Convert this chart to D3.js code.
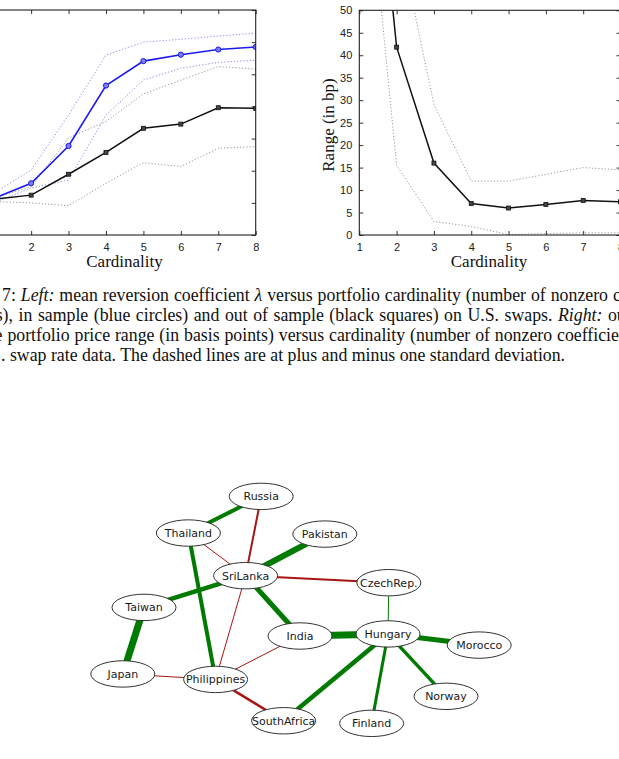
<!DOCTYPE html>
<html>
<head>
<meta charset="utf-8">
<script src="https://cdn.jsdelivr.net/npm/d3@7"></script>
<style>
  body { margin: 0; background: #fff; }
  svg { display: block; }
  .tick text { font-family: "Liberation Sans", Arial, sans-serif; font-size: 11px; fill: #222; }
  .tick line { stroke: #333; }
  .axisTitle { font-family: "Liberation Serif", "Times New Roman", serif; font-size: 17px; fill: #111; }
  .caption { font-family: "Liberation Serif", "Times New Roman", serif; font-size: 17.8px; fill: #111; }
  .nodeLabel { font-family: "DejaVu Sans", sans-serif; font-size: 11px; fill: #1a1a1a; }
</style>
</head>
<body>
<div id="chart"></div>
<script>
// ---- data -------------------------------------------------------
var cardinality = [1, 2, 3, 4, 5, 6, 7, 8];

// left panel: mean reversion coefficient (y axis labels are cut off in the picture)
var lambdaIn    = [1.14, 1.61, 2.77, 4.65, 5.41, 5.61, 5.77, 5.85];
var lambdaInUp  = [1.30, 2.02, 3.73, 5.60, 6.00, 6.09, 6.19, 6.28];
var lambdaInLo  = [1.00, 1.46, 1.71, 3.73, 4.82, 5.19, 5.37, 5.44];
var lambdaOut   = [1.11, 1.24, 1.89, 2.57, 3.32, 3.45, 3.96, 3.94];
var lambdaOutUp = [1.15, 1.50, 3.02, 3.53, 4.39, 4.82, 5.24, 5.16];
var lambdaOutLo = [1.04, 1.00, 0.91, 1.61, 2.25, 2.13, 2.70, 2.75];
var lambdaTicks = [0, 1, 2, 3, 4, 5, 6, 7];

// right panel: price range in bp
var rangeOut = [124, 41.8, 16, 7, 6, 6.8, 7.7, 7.4];
var rangeUp  = [149, 68.6, 29, 12, 12, 13.5, 15, 14.5];
var rangeLo  = [100, 15.5, 3, 1.9, 0.1, 0.3, 0.5, 0.5];
var rangeTicks = [0, 5, 10, 15, 20, 25, 30, 35, 40, 45, 50];

// network
var nodeNames = ["Russia", "Thailand", "Pakistan", "SriLanka", "CzechRep.", "Taiwan", "India",
                 "Hungary", "Morocco", "Norway", "Finland", "SouthAfrica", "Japan", "Philippines"];
var nodeU = [40.3, 22.1, 56.2, 36.4, 72.2, 11.0, 50.0, 72.0, 94.8, 86.5, 67.9, 45.9, 5.7, 28.9];
var nodeV = [6.3, 20.4, 20.8, 36.8, 39.5, 49.0, 60.0, 59.2, 63.5, 83.2, 93.6, 92.6, 74.6, 76.7];
var edgeSource = ["Russia", "Russia", "Thailand", "Thailand", "Pakistan", "SriLanka", "SriLanka", "SriLanka",
                  "SriLanka", "Taiwan", "CzechRep.", "India", "Hungary", "Hungary", "Hungary", "Hungary",
                  "India", "Japan", "Philippines"];
var edgeTarget = ["Thailand", "SriLanka", "SriLanka", "Philippines", "SriLanka", "CzechRep.", "Taiwan", "India",
                  "Philippines", "Japan", "Hungary", "Hungary", "Morocco", "Norway", "Finland", "SouthAfrica",
                  "Philippines", "Philippines", "SouthAfrica"];
var edgeWeight = [4, -2, -1, 4, 6, -2, 4.5, 5, -1, 7, 1, 7, 5, 3.5, 3, 4.5, -1, -1, -2.5];

// caption lines: hidden prefix (cut off at the left), then visible pieces [text, italic]
var captionPrefix = ["Figure\u2002", "coefficient", "of th", "U.S"];
var captionStart = [2, -4.3, -5.4, 1];
var captionParts = [
  [["7: ", false], ["Left:", true], [" mean reversion coefficient ", false], ["\u03bb", true],
   [" versus portfolio cardinality (number of nonzero coefficients)", false]],
  [["s), in sample (blue circles) and out of sample (black squares) on U.S. swaps. ", false],
   ["Right:", true], [" out of sample", false]],
  [["e portfolio price range (in basis points) versus cardinality (number of nonzero coefficients) on", false]],
  [[". swap rate data. The dashed lines are at plus and minus one standard deviation.", false]]
];
// justified lines: text up to an anchor point and where that point sits
var captionAnchor = ["nonzero", "swaps. ", "nonzero ", null];
var captionAnchorX = [608, 558, 557, null];

// ---- page -------------------------------------------------------
var svgWidth = 619;
var svgHeight = 759;

var svg = d3.select("#chart")
  .append("svg")
  .attr("width", svgWidth)
  .attr("height", svgHeight);

var defs = svg.append("defs");

// draws one framed panel with inward ticks on all four sides
function framePanel(g, x, y, yTicks, showYLabels) {
  var x0 = x.range()[0], x1 = x.range()[1];
  var y0 = y.range()[0], y1 = y.range()[1];

  g.append("g")
    .attr("transform", `translate(0,${y0})`)
    .call(d3.axisBottom(x).tickValues(cardinality).tickSizeInner(-4).tickSizeOuter(0).tickPadding(8)
      .tickFormat(d3.format("d")))
    .call(a => a.select(".domain").remove());

  g.append("g")
    .attr("transform", `translate(0,${y1})`)
    .call(d3.axisTop(x).tickValues(cardinality).tickSizeInner(-4).tickSizeOuter(0).tickFormat(""))
    .call(a => a.select(".domain").remove());

  g.append("g")
    .attr("transform", `translate(${x0},0)`)
    .call(d3.axisLeft(y).tickValues(yTicks).tickSizeInner(-4).tickSizeOuter(0).tickPadding(7)
      .tickFormat(showYLabels ? d3.format("d") : ""))
    .call(a => a.select(".domain").remove());

  g.append("g")
    .attr("transform", `translate(${x1},0)`)
    .call(d3.axisRight(y).tickValues(yTicks).tickSizeInner(-4).tickSizeOuter(0).tickFormat(""))
    .call(a => a.select(".domain").remove());

  g.append("rect")
    .attr("x", x0).attr("y", y1)
    .attr("width", x1 - x0).attr("height", y0 - y1)
    .attr("fill", "none")
    .attr("stroke", "#222")
    .attr("stroke-width", 1.1);
}

function addLine(g, x, y, values, color, width, dash) {
  var line = d3.line()
    .x((d, i) => x(cardinality[i]))
    .y(d => y(d));
  return g.append("path")
    .datum(values)
    .attr("d", line)
    .attr("fill", "none")
    .attr("stroke", color)
    .attr("stroke-width", width)
    .attr("stroke-dasharray", dash);
}

// ---- left panel -------------------------------------------------
var xLeft = d3.scaleLinear().domain([1, 8]).range([-6.3, 255.7]);
var yLeft = d3.scaleLinear().domain([0, 7]).range([235, 10]);

var left = svg.append("g");
defs.append("clipPath").attr("id", "clipLeft")
  .append("rect").attr("x", -10).attr("y", 10).attr("width", 266).attr("height", 225);

var leftPlot = left.append("g").attr("clip-path", "url(#clipLeft)");
addLine(leftPlot, xLeft, yLeft, lambdaInUp, "#8a8af2", 1, "1.2,2");
addLine(leftPlot, xLeft, yLeft, lambdaInLo, "#8a8af2", 1, "1.2,2");
addLine(leftPlot, xLeft, yLeft, lambdaOutUp, "#9a9a9a", 1, "1.2,2");
addLine(leftPlot, xLeft, yLeft, lambdaOutLo, "#9a9a9a", 1, "1.2,2");
addLine(leftPlot, xLeft, yLeft, lambdaOut, "#111", 1.5, null);
addLine(leftPlot, xLeft, yLeft, lambdaIn, "#1a1aee", 1.6, null);

leftPlot.selectAll(".sqL").data(lambdaOut).enter().append("rect")
  .attr("x", (d, i) => xLeft(cardinality[i]) - 2)
  .attr("y", d => yLeft(d) - 2)
  .attr("width", 4).attr("height", 4)
  .attr("fill", "#444").attr("stroke", "#111").attr("stroke-width", 0.8);

leftPlot.selectAll(".cirL").data(lambdaIn).enter().append("circle")
  .attr("cx", (d, i) => xLeft(cardinality[i]))
  .attr("cy", d => yLeft(d))
  .attr("r", 2.6)
  .attr("fill", "#7c7cf5").attr("stroke", "#1a1aee").attr("stroke-width", 1);

framePanel(left, xLeft, yLeft, lambdaTicks, false);

left.append("text")
  .attr("class", "axisTitle")
  .attr("x", 124.5).attr("y", 267)
  .attr("text-anchor", "middle")
  .text("Cardinality");

// ---- right panel ------------------------------------------------
var xRight = d3.scaleLinear().domain([1, 8]).range([359.3, 620.5]);
var yRight = d3.scaleLinear().domain([0, 50]).range([235, 10.3]);

var right = svg.append("g");
defs.append("clipPath").attr("id", "clipRight")
  .append("rect").attr("x", 359.3).attr("y", 10.3).attr("width", 262).attr("height", 224.7);

var rightPlot = right.append("g").attr("clip-path", "url(#clipRight)");
addLine(rightPlot, xRight, yRight, rangeUp, "#9a9a9a", 1, "1.2,2");
addLine(rightPlot, xRight, yRight, rangeLo, "#9a9a9a", 1, "1.2,2");
addLine(rightPlot, xRight, yRight, rangeOut, "#111", 1.5, null);

rightPlot.selectAll(".sqR").data(rangeOut).enter().append("rect")
  .attr("x", (d, i) => xRight(cardinality[i]) - 2)
  .attr("y", d => yRight(d) - 2)
  .attr("width", 4).attr("height", 4)
  .attr("fill", "#444").attr("stroke", "#111").attr("stroke-width", 0.8);

framePanel(right, xRight, yRight, rangeTicks, true);

right.append("text")
  .attr("class", "axisTitle")
  .attr("x", 489).attr("y", 267)
  .attr("text-anchor", "middle")
  .text("Cardinality");

right.append("text")
  .attr("class", "axisTitle")
  .attr("transform", "translate(334,125) rotate(-90)")
  .attr("text-anchor", "middle")
  .text("Range (in bp)");

// ---- caption ----------------------------------------------------
var caption = svg.append("g");
captionParts.forEach(function(parts, i) {
  var baseline = 300.5 + i * 20;
  caption.append("text")
    .attr("class", "caption")
    .attr("x", captionStart[i]).attr("y", baseline)
    .attr("text-anchor", "end")
    .text(captionPrefix[i]);
  var t = caption.append("text")
    .attr("class", "caption")
    .attr("x", captionStart[i]).attr("y", baseline)
    .attr("xml:space", "preserve");
  parts.forEach(function(p) {
    t.append("tspan")
      .style("font-style", p[1] ? "italic" : "normal")
      .text(p[0]);
  });
  // stretch the word gaps like the justified typeset lines
  if (captionAnchor[i]) {
    var full = parts.map(p => p[0]).join("");
    var n = full.indexOf(captionAnchor[i]) + captionAnchor[i].length;
    var natural = t.node().getSubStringLength(0, n);
    var gaps = full.slice(0, n).split(" ").length - 1;
    var ws = (captionAnchorX[i] - captionStart[i] - natural) / gaps;
    t.attr("word-spacing", ws);
  }
});

// ---- network ----------------------------------------------------
var uScale = d3.scaleLinear().domain([0, 100]).range([100, 500]);
var vScale = d3.scaleLinear().domain([0, 100]).range([480, 740]);
var widthScale = d3.scaleLinear().domain([0, 7]).range([0, 7]);

var nodes = nodeNames.map((n, i) => ({ name: n, x: uScale(nodeU[i]), y: vScale(nodeV[i]) }));
var byName = {};
nodes.forEach(d => { byName[d.name] = d; });
var edges = edgeSource.map((s, i) => ({ source: byName[s], target: byName[edgeTarget[i]], w: edgeWeight[i] }));

var net = svg.append("g");

net.selectAll("line").data(edges).enter().append("line")
  .attr("x1", d => d.source.x).attr("y1", d => d.source.y)
  .attr("x2", d => d.target.x).attr("y2", d => d.target.y)
  .attr("stroke", d => d.w > 0 ? "#007a00" : "#a81414")
  .attr("stroke-width", d => widthScale(Math.abs(d.w)));

net.selectAll("ellipse").data(nodes).enter().append("ellipse")
  .attr("cx", d => d.x).attr("cy", d => d.y)
  .attr("rx", 32).attr("ry", 13.2)
  .attr("fill", "#fff")
  .attr("stroke", "#333")
  .attr("stroke-width", 1);

net.selectAll(".nodeLabel").data(nodes).enter().append("text")
  .attr("class", "nodeLabel")
  .attr("x", d => d.x).attr("y", d => d.y + 4)
  .attr("text-anchor", "middle")
  .text(d => d.name);
</script>
</body>
</html>
